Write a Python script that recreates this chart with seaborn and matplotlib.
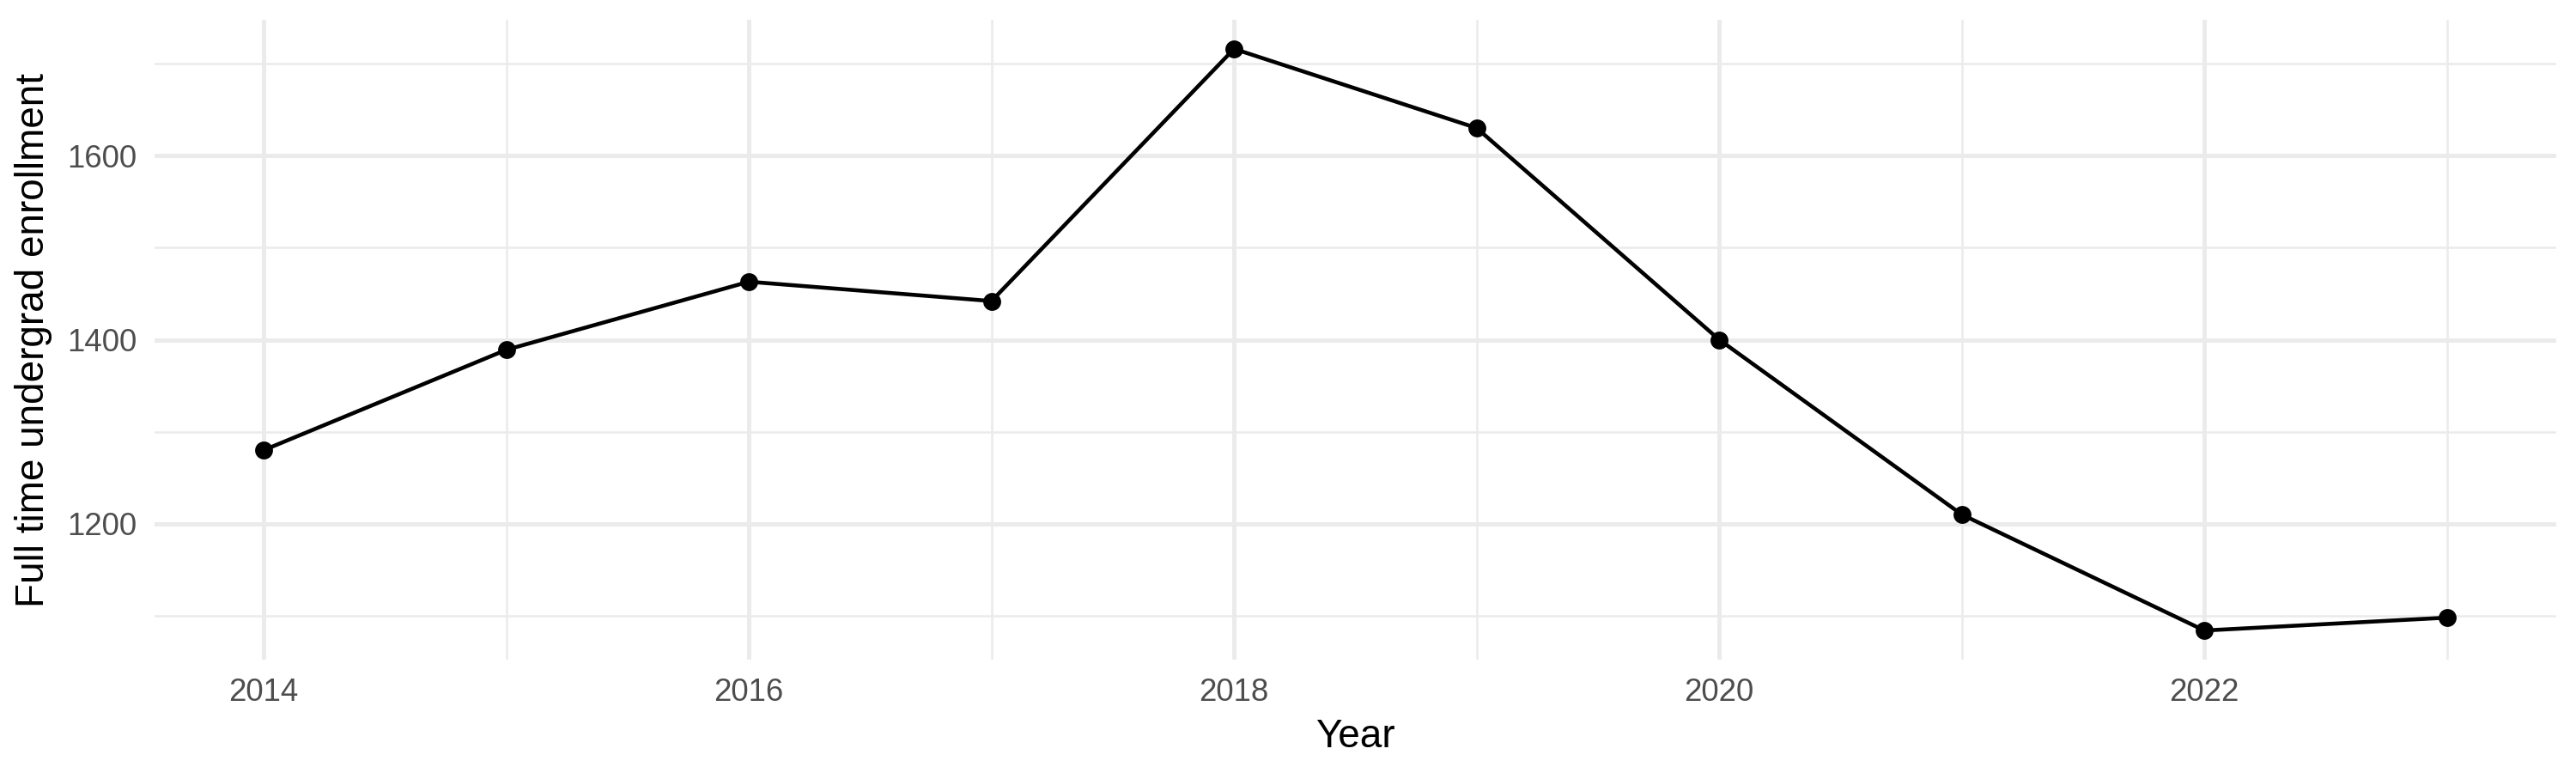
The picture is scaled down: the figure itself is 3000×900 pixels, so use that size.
import matplotlib.pyplot as plt
import pandas as pd
import seaborn as sns
from matplotlib.ticker import MultipleLocator

years = [2014, 2015, 2016, 2017, 2018, 2019, 2020, 2021, 2022, 2023]
enrollment = [1280, 1389, 1463, 1442, 1716, 1630, 1400, 1210, 1084, 1098]

df = pd.DataFrame({"Year": years, "Enrollment": enrollment})

sns.set_theme(style="white")
plt.rcParams["font.family"] = ["Liberation Sans", "DejaVu Sans"]

fig = plt.figure(figsize=(10, 3), dpi=300)
ax = fig.add_axes([0.06, 0.1467, 0.9323, 0.8277])

sns.lineplot(data=df, x="Year", y="Enrollment", color="black", linewidth=1.1,
             marker="o", markersize=5, markeredgewidth=0, ax=ax, zorder=3)

ax.set_xlim(2013.55, 2023.45)
ax.set_ylim(1052.4, 1747.6)
ax.xaxis.set_major_locator(MultipleLocator(2))
ax.xaxis.set_minor_locator(MultipleLocator(1))
ax.yaxis.set_major_locator(MultipleLocator(200))
ax.yaxis.set_minor_locator(MultipleLocator(100))

ax.grid(which="major", color="#EBEBEB", linewidth=1.2)
ax.grid(which="minor", color="#EBEBEB", linewidth=0.6)
ax.set_axisbelow(True)
for s in ax.spines.values():
    s.set_visible(False)

ax.tick_params(which="both", length=0, labelsize=8.8, labelcolor="#4D4D4D")
ax.tick_params(axis="x", pad=5)
ax.tick_params(axis="y", pad=5)
ax.set_xlabel("Year", fontsize=11, color="black", labelpad=3)
ax.set_ylabel("Full time undergrad enrollment", fontsize=11, color="black", labelpad=4)

fig.savefig("out.png", dpi=300)
